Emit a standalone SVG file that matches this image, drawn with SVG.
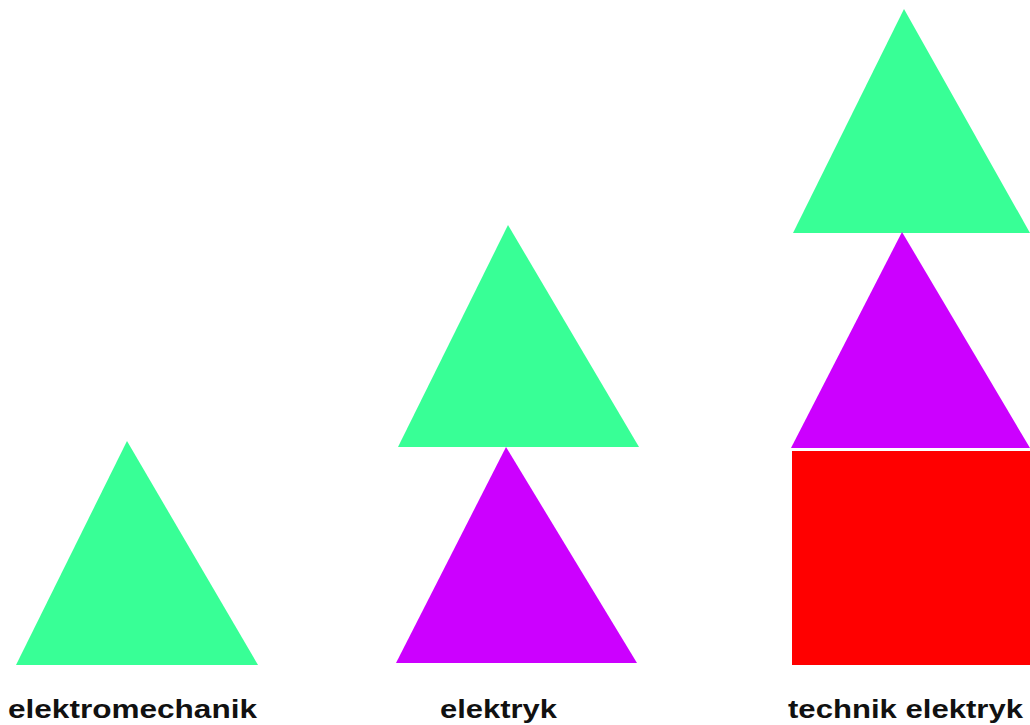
<svg xmlns="http://www.w3.org/2000/svg" width="1030" height="725" viewBox="0 0 1030 725">
<style>
.g{fill:#38ff96}
.p{fill:#cc00ff}
.r{fill:#ff0000}
.t{font-family:"Liberation Sans",Arial,sans-serif;font-weight:bold;font-size:25px;fill:#111}
</style>
<rect width="1030" height="725" fill="#fff"/>
<g id="col1">
<polygon class="g" points="127,441 258,665 16,665"/>
<text class="t" x="8" y="718" textLength="249" lengthAdjust="spacingAndGlyphs">elektromechanik</text>
</g>
<g id="col2">
<polygon class="g" points="508,225 639,447 398,447"/>
<polygon class="p" points="506,447 637,663 396,663"/>
<text class="t" x="440" y="718" textLength="117" lengthAdjust="spacingAndGlyphs">elektryk</text>
</g>
<g id="col3">
<polygon class="g" points="904,9 1030,233 793,233"/>
<polygon class="p" points="902,232 1030,448 791,448"/>
<rect class="r" x="792" y="451" width="238" height="214"/>
<text class="t" x="788" y="718" textLength="235" lengthAdjust="spacingAndGlyphs">technik elektryk</text>
</g>
<g id="connectors"/>
</svg>
